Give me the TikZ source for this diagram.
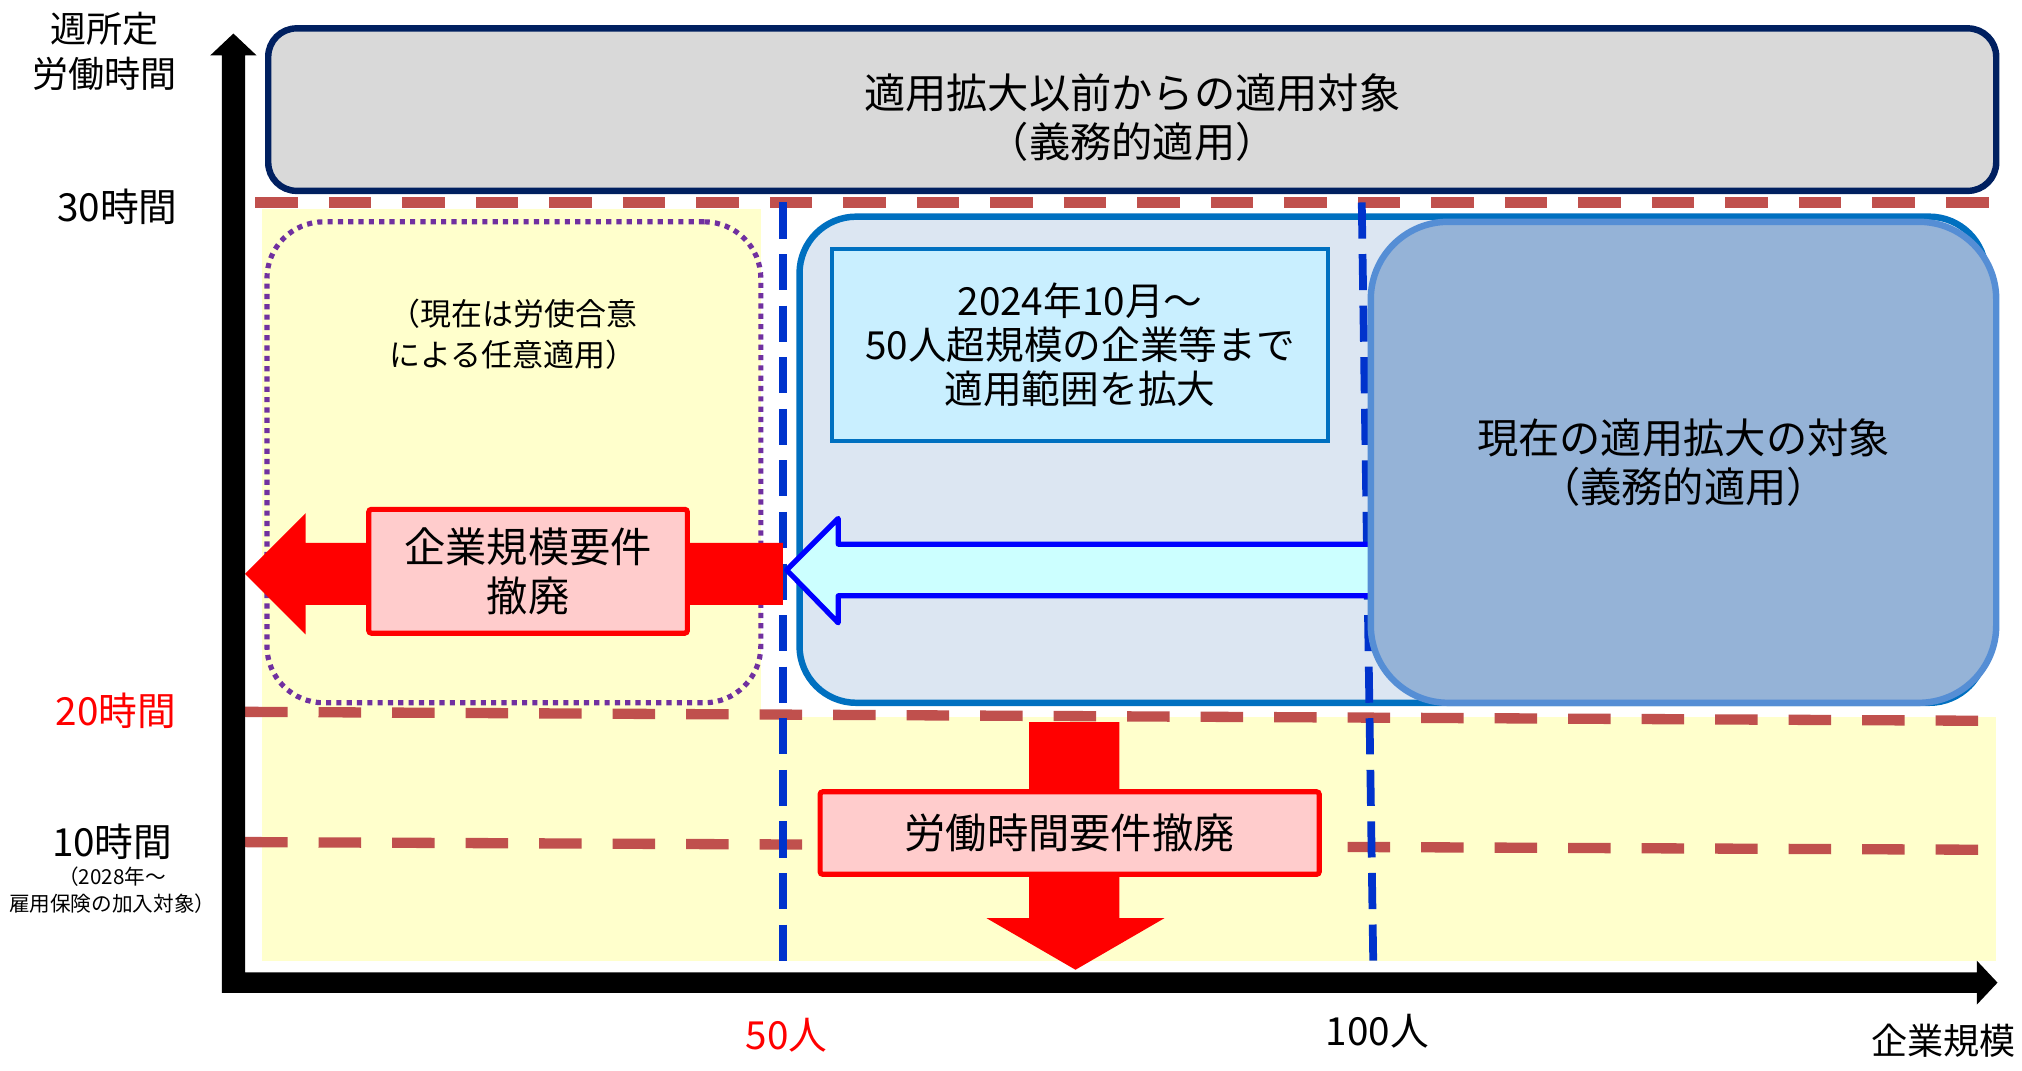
\documentclass[tikz,border=0pt]{standalone}
\usepackage{fontspec}
\setmainfont{Noto Sans CJK JP}
\definecolor{navy}{HTML}{002060}
\definecolor{grayfill}{HTML}{D9D9D9}
\definecolor{dashred}{HTML}{C0504D}
\definecolor{yel}{HTML}{FFFFCC}
\definecolor{purp}{HTML}{7030A0}
\definecolor{bluebord}{HTML}{0070C0}
\definecolor{bluefill}{HTML}{DCE6F2}
\definecolor{rightfill}{HTML}{95B3D7}
\definecolor{rightbord}{HTML}{558ED5}
\definecolor{cyanfill}{HTML}{C9EFFF}
\definecolor{arrowfill}{HTML}{CCFFFF}
\definecolor{dashblue}{HTML}{0033CC}
\definecolor{pinkfill}{HTML}{FFCCCC}
\definecolor{purered}{HTML}{FF0000}
\definecolor{pureblue}{HTML}{0000FF}
\begin{document}
\begin{tikzpicture}[x=0.5pt,y=-0.5pt,
  reddash/.style={draw=dashred, line width=4pt, dash pattern=on 16.5pt off 12pt},
  bluedash/.style={draw=dashblue, line width=3pt, dash pattern=on 14pt off 6pt},
  txt/.style={inner sep=0pt, align=center, text=black},
  bigtxt/.style={txt, font=\fontsize{16}{19}\selectfont},
  boxbase/.style={inner sep=0pt, align=center},
  topbox/.style={boxbase, draw=navy, fill=grayfill, line width=2.5pt, rounded corners=11pt},
  areabox/.style={boxbase, draw=bluebord, fill=bluefill, line width=2.5pt, rounded corners=22pt},
  rightbox/.style={boxbase, draw=rightbord, fill=rightfill, line width=2.5pt, rounded corners=30pt},
  cyanbox/.style={boxbase, draw=bluebord, fill=cyanfill, line width=1.5pt},
  dotbox/.style={boxbase, draw=purp, line width=2pt, dash pattern=on 2pt off 2pt, rounded corners=22pt},
  pinkbox/.style={boxbase, draw=purered, fill=pinkfill, line width=2pt, rounded corners=1pt},
  redarrow/.style={fill=purered},
  bluearrow/.style={draw=pureblue, fill=arrowfill, line width=2pt, line join=round}
]
\useasboundingbox (0,0) rectangle (1568,830.5);
\fill[white] (0,0) rectangle (1568,830.5);

% yellow regions
\fill[yel] (203,162) rectangle (590,745);
\fill[yel] (203,556) rectangle (1548,745);

% horizontal hour lines
\coordinate (h30a) at (198,157); \coordinate (h30b) at (1548,157);
\coordinate (h20a) at (190,552); \coordinate (h20b) at (1548,559);
\coordinate (h10a) at (190,653); \coordinate (h10b) at (1548,659);
\draw[reddash] (h30a) -- (h30b);
\draw[reddash] (h20a) -- (h20b);
\draw[reddash] (h10a) -- (h10b);

% top box
\node[topbox, minimum width=670pt, minimum height=63pt] (top) at (878,85) {};
\node[bigtxt] (toptext) at (878,91) {適用拡大以前からの適用対象\\（義務的適用）};

% expansion area box
\node[areabox, minimum width=460pt, minimum height=188.5pt] (area) at (1080,356.5) {};
\node[cyanbox, minimum width=192.5pt, minimum height=74.5pt, font=\fontsize{15}{17}\selectfont] (cyan) at (837.5,267.5) {2024年10月～\\50人超規模の企業等まで\\適用範囲を拡大};

% vertical company size lines
\coordinate (v50a) at (607,157); \coordinate (v50b) at (607,752);
\coordinate (v100a) at (1056,157); \coordinate (v100b) at (1065,752);
\draw[bluedash] (v50a) -- (v50b);
\draw[bluedash] (v100a) -- (v100b);

% dotted optional area
\node[dotbox, minimum width=191.5pt, minimum height=186.5pt] (opt) at (398.5,358.5) {};
\node[txt, font=\fontsize{12}{16}\selectfont] (opttext) at (398,259) {（現在は労使合意\\による任意適用）};

% blue hollow arrow
\draw[bluearrow] (610,442) -- (650,402) -- (650,422) -- (1070,422) -- (1070,462) -- (650,462) -- (650,483) -- cycle;

% current target box
\node[rightbox, minimum width=242.5pt, minimum height=186.5pt, font=\fontsize{16}{19}\selectfont] (cur) at (1305.5,358.5) {現在の適用拡大の対象\\（義務的適用）};

% red left arrow
\fill[redarrow] (190,445) -- (237,398) -- (237,421) -- (607,421) -- (607,469) -- (237,469) -- (237,492) -- cycle;
\node[pinkbox, minimum width=123.5pt, minimum height=48pt, font=\fontsize{16}{19}\selectfont] (sizebox) at (409.5,443) {企業規模要件\\撤廃};

% red down arrow
\fill[redarrow] (798,560) -- (868,560) -- (868,712) -- (903,712) -- (834,752) -- (765,712) -- (798,712) -- cycle;
\node[pinkbox, minimum width=193.5pt, minimum height=32pt, font=\fontsize{16}{19}\selectfont] (hourbox) at (829.5,646) {労働時間要件撤廃};

% axes
\fill[black] (172,770) -- (172,43) -- (163,43) -- (181,26) -- (199,43) -- (190,43) -- (190,754)
  -- (1533,754) -- (1533,745) -- (1549,762) -- (1533,779) -- (1533,770) -- cycle;

% axis labels
\node[txt, font=\fontsize{14}{17.5}\selectfont] (ylab) at (81,40) {週所定\\労働時間};
\node[txt, font=\fontsize{15}{18}\selectfont] (l30) at (91,160) {30時間};
\node[txt, font=\fontsize{15}{18}\selectfont, text=purered] (l20) at (90,551) {20時間};
\node[txt, font=\fontsize{15}{18}\selectfont] (l10) at (87,653) {10時間};
\node[txt, font=\fontsize{8}{10.5}\selectfont] (l10n) at (87,690) {（2028年～\\雇用保険の加入対象）};
\node[txt, font=\fontsize{15}{18}\selectfont, text=purered] (x50) at (610,803) {50人};
\node[txt, font=\fontsize{15}{18}\selectfont] (x100) at (1068,800) {100人};
\node[txt, font=\fontsize{14}{17}\selectfont] (xlab) at (1507,807) {企業規模};
\end{tikzpicture}
\end{document}
